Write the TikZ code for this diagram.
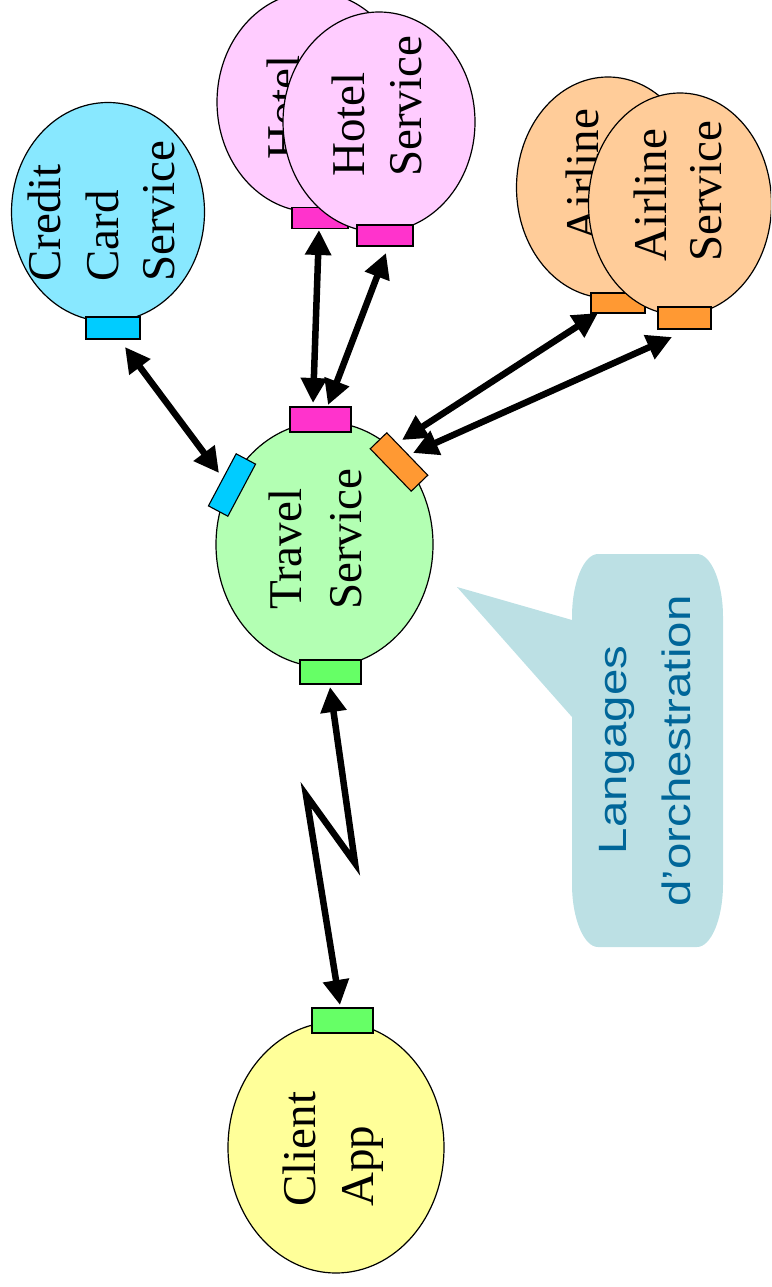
\documentclass[tikz,border=0pt]{standalone}
\usepackage{fontspec}
\setmainfont{Liberation Serif}
\newfontfamily\calloutfont{Liberation Sans}
\usetikzlibrary{shapes.geometric,arrows.meta}
\definecolor{ccfill}{RGB}{136,232,255}
\definecolor{ccport}{RGB}{0,204,255}
\definecolor{hofill}{RGB}{255,204,255}
\definecolor{hoport}{RGB}{255,51,204}
\definecolor{alfill}{RGB}{255,204,153}
\definecolor{alport}{RGB}{255,153,51}
\definecolor{trfill}{RGB}{179,255,179}
\definecolor{grport}{RGB}{102,255,102}
\definecolor{clfill}{RGB}{255,255,153}
\definecolor{callfill}{RGB}{188,224,228}
\definecolor{calltext}{RGB}{0,102,153}
\begin{document}
\begin{tikzpicture}[x=1pt,y=-1pt,
  svc/.style={ellipse,draw=black,line width=1.2pt,inner sep=0pt},
  port/.style={rectangle,draw=black,line width=1.1pt,inner sep=0pt},
  lbl/.style={rotate=90,anchor=base west,inner sep=0pt,font=\fontsize{47}{57}\selectfont},
  clbl/.style={rotate=90,anchor=base,inner sep=0pt,text=calltext,font=\calloutfont\fontsize{39.5}{47}\selectfont},
  link/.style={line width=6.5pt,line join=miter,miter limit=20,{Triangle[length=25pt,width=25pt]}-{Triangle[length=25pt,width=25pt]}}]
\useasboundingbox (0,0) rectangle (771,1287);
\clip (0,0) rectangle (771,1287);

% Credit Card Service
\node[svc,fill=ccfill,minimum width=193pt,minimum height=219pt] (cc) at (108,212) {};
\node[port,fill=ccport,minimum width=54pt,minimum height=22pt] (ccp) at (113,328) {};
\node[lbl] (cct1) at (60,282) {Credit};
\node[lbl] (cct2) at (118,282) {Card};
\node[lbl] (cct3) at (174,282) {Service};

% Hotel services
\node[svc,fill=hofill,minimum width=192pt,minimum height=220pt] (hob) at (313,102) {};
\node[lbl] (hobt) at (299,160) {Hotel};
\node[port,fill=hoport,minimum width=56pt,minimum height=21pt] (hobp) at (320,218) {};
\node[svc,fill=hofill,minimum width=192pt,minimum height=220pt] (hof) at (379,122) {};
\node[lbl] (hoft1) at (364,177) {Hotel};
\node[lbl] (hoft2) at (421,177) {Service};
\node[port,fill=hoport,minimum width=56pt,minimum height=21pt] (hofp) at (385,235.5) {};

% Airline services
\node[svc,fill=alfill,minimum width=183pt,minimum height=221pt] (alb) at (608,187.5) {};
\node[lbl] (albt) at (598,242) {Airline};
\node[port,fill=alport,minimum width=54pt,minimum height=20pt] (albp) at (618,303) {};
\node[svc,fill=alfill,minimum width=183pt,minimum height=222pt] (alf) at (680,204) {};
\node[lbl] (alft1) at (666,262) {Airline};
\node[lbl] (alft2) at (721,262) {Service};
\node[port,fill=alport,minimum width=53pt,minimum height=22pt] (alfp) at (684.5,318) {};

% Travel Service
\node[svc,fill=trfill,minimum width=217pt,minimum height=245pt] (tr) at (324.5,544.5) {};
\node[lbl] (trt1) at (301,610) {Travel};
\node[lbl] (trt2) at (361,610) {Service};
\node[port,fill=hoport,minimum width=61pt,minimum height=25pt] (trph) at (320.5,419.5) {};
\node[port,fill=grport,minimum width=61pt,minimum height=24pt] (trpc) at (330.5,672) {};
\node[port,fill=ccport,minimum width=59pt,minimum height=22pt,rotate=62] (trpcc) at (232,485) {};
\node[port,fill=alport,minimum width=59pt,minimum height=23pt,rotate=-46] (trpa) at (399,462) {};

% Client App
\node[svc,fill=clfill,minimum width=216pt,minimum height=251pt] (cl) at (336,1147.5) {};
\node[lbl] (clt1) at (315,1207) {Client};
\node[lbl] (clt2) at (373,1207) {App};
\node[port,fill=grport,minimum width=61pt,minimum height=25pt] (clp) at (342.5,1020.5) {};

% connector end points
\coordinate (ccA) at (125,347);
\coordinate (ccB) at (219,473);
\coordinate (h1A) at (319,230);
\coordinate (h1B) at (313,403);
\coordinate (h2A) at (386,253);
\coordinate (h2B) at (328,405);
\coordinate (a1A) at (598,313);
\coordinate (a1B) at (402,440);
\coordinate (a2A) at (672,337);
\coordinate (a2B) at (413,453);
\coordinate (zA) at (330,687);
\coordinate (z1) at (355,863);
\coordinate (z2) at (306,795);
\coordinate (zB) at (340,1005);

\draw[link] (ccA) -- (ccB);
\draw[link] (h1A) -- (h1B);
\draw[link] (h2A) -- (h2B);
\draw[link] (a1A) -- (a1B);
\draw[link] (a2A) -- (a2B);
\draw[link] (zA) -- (z1) -- (z2) -- (zB);

% Callout
\fill[callfill] (572,617) .. controls (572,582) and (584,554) .. (598,554) -- (697,554)
  .. controls (711,554) and (723,582) .. (723,617) -- (723,884)
  .. controls (723,919) and (711,947) .. (697,947) -- (598,947)
  .. controls (584,947) and (572,919) .. (572,884) -- (572,717) -- (457,587) -- (572,620) -- cycle;
\node[clbl] (call1) at (626,750) {\scalebox{1.2}[1]{Langages}};
\node[clbl] (call2) at (690,751) {\scalebox{1.2}[1]{d’orchestration}};
\end{tikzpicture}
\end{document}
